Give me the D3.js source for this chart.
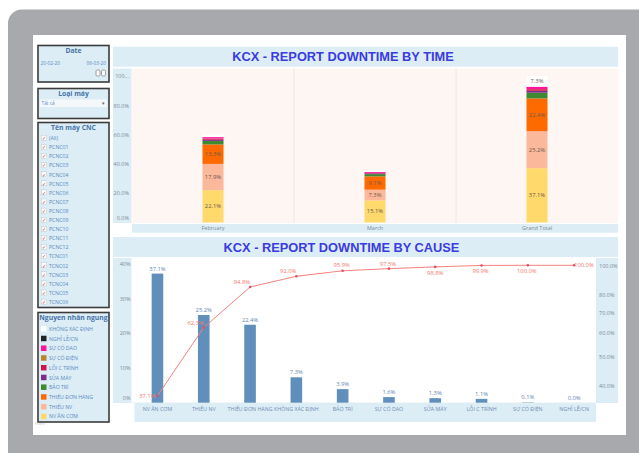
<!DOCTYPE html>
<html><head><meta charset="utf-8">
<script src="https://cdn.jsdelivr.net/npm/d3@7"></script>
<style>
body{margin:0;background:#fff;}
svg{display:block;font-family:"Open Sans",Lato,sans-serif;}
</style>
</head><body>
<svg id="c" width="639" height="453"></svg>
<script>
// ---------- data ----------
const periods = ["February", "March", "Grand Total"];
const stackKeys = ["NV ĂN CƠM","THIẾU NV","THIẾU ĐƠN HÀNG","BẢO TRÌ","SỬA MÁY","LỖI C TRÌNH","SỰ CỐ ĐIỆN","SỰ CỐ DAO","NGHỈ LỄ/CN","KHÔNG XÁC ĐỊNH"];
const febValues   = [22.1, 17.9, 13.3, 2.4, 0.8, 0.7, 0.1, 1.0, 0.0, 2.0];
const marValues   = [15.1, 7.3, 9.1, 1.5, 0.5, 0.4, 0.0, 0.6, 0.0, 0.8];
const totalValues = [37.1, 25.2, 22.4, 3.9, 1.3, 1.1, 0.1, 1.6, 0.0, 7.3];
const topTicks = [0, 20, 40, 60, 80, 100];
const topTickLabels = ["0.0%", "20.0%", "40.0%", "60.0%", "80.0%", "100..."];

const causes = ["NV ĂN CƠM","THIẾU NV","THIẾU ĐƠN HÀNG","KHÔNG XÁC ĐỊNH","BẢO TRÌ","SỰ CỐ DAO","SỬA MÁY","LỖI C TRÌNH","SỰ CỐ ĐIỆN","NGHỈ LỄ/CN"];
const causeShare = [37.1, 25.2, 22.4, 7.3, 3.9, 1.6, 1.3, 1.1, 0.1, 0.0];
const cumulativeShare = [37.1, 62.3, 84.8, 92.0, 95.9, 97.5, 98.8, 99.9, 100.0, 100.0];
const leftTicks = [0, 10, 20, 30, 40];
const rightTicks = [40, 50, 60, 70, 80, 100];

const legendItems = ["KHÔNG XÁC ĐỊNH","NGHỈ LỄ/CN","SỰ CỐ DAO","SỰ CỐ ĐIỆN","LỖI C TRÌNH","SỬA MÁY","BẢO TRÌ","THIẾU ĐƠN HÀNG","THIẾU NV","NV ĂN CƠM"];
const legendColors = ["#ffffff","#222222","#ff129c","#b8862e","#d3144c","#7b2c8d","#3f8a31","#ff6a00","#fbb89b","#ffd96c"];
const machines = ["(All)","PCNC01","PCNC02","PCNC03","PCNC04","PCNC05","PCNC06","PCNC07","PCNC08","PCNC09","PCNC10","PCNC11","PCNC12","TCNC01","TCNC02","TCNC03","TCNC04","TCNC05","TCNC06"];

// ---------- setup ----------
const svg = d3.select("#c");
const color = d3.scaleOrdinal().domain(legendItems).range(legendColors);
const BAND = "#dcedf5", TITLE = "#3b3be0", AX = "#7a8a99", PANELTXT = "#5b8cc2", PANELTTL = "#4773a8";

svg.append("rect").attr("x",8).attr("y",9.5).attr("width",660).attr("height",470).attr("rx",14).attr("fill","#a8a9ad");
svg.append("rect").attr("x",33).attr("y",35).attr("width",593).attr("height",400).attr("fill","#fff");

// ---------- left panels ----------
function panel(y0, y1, title){
  svg.append("rect").attr("x",38).attr("y",y0).attr("width",71).attr("height",y1-y0)
    .attr("fill",BAND).attr("stroke","#3b3b3b").attr("stroke-width",1.6);
  svg.append("text").attr("x",73.5).attr("y",y0+7.5).attr("text-anchor","middle")
    .attr("font-size",6.8).attr("font-weight","bold").attr("fill",PANELTTL).text(title);
}
panel(45.5, 82, "Date");
svg.append("text").attr("x",40.5).attr("y",65).attr("font-size",4.8).attr("fill",PANELTXT).text("20-02-20");
svg.append("text").attr("x",106).attr("y",65).attr("text-anchor","end").attr("font-size",4.8).attr("fill",PANELTXT).text("06-03-20");
svg.append("rect").attr("x",96).attr("y",70).attr("width",4).attr("height",6).attr("rx",1.2).attr("fill","#fff").attr("stroke","#888").attr("stroke-width",0.8);
svg.append("rect").attr("x",101.5).attr("y",70).attr("width",4).attr("height",6).attr("rx",1.2).attr("fill","#fff").attr("stroke","#888").attr("stroke-width",0.8);

panel(88.5, 118.5, "Loại máy");
svg.append("rect").attr("x",40).attr("y",99.5).attr("width",67).attr("height",7.5).attr("fill","#f4f8fa");
svg.append("text").attr("x",41.5).attr("y",105).attr("font-size",4.8).attr("fill",PANELTXT).text("Tất cả");
svg.append("text").attr("x",102).attr("y",105).attr("font-size",4.5).attr("fill","#666").text("▾");

panel(122.5, 307.5, "Tên máy CNC");
const mRow = svg.append("g").selectAll("g").data(machines).join("g")
  .attr("transform",(d,i)=>`translate(0,${138.3 + i*9.1})`);
mRow.append("rect").attr("x",41.5).attr("y",-3).attr("width",5).attr("height",5).attr("fill","#fff").attr("stroke","#bbb").attr("stroke-width",0.4);
mRow.append("text").attr("x",42).attr("y",1.8).attr("font-size",5).attr("fill","#c0392b").text("✓");
mRow.append("text").attr("x",49).attr("y",1.8).attr("font-size",5.2).attr("fill",PANELTXT).text(d=>d);

panel(312.5, 422, "Nguyen nhân ngung");
const lRow = svg.append("g").selectAll("g").data(legendItems).join("g")
  .attr("transform",(d,i)=>`translate(0,${329 + i*9.74})`);
lRow.append("rect").attr("x",41).attr("y",-3).attr("width",5.5).attr("height",5.5).attr("fill",d=>color(d));
lRow.append("text").attr("x",49).attr("y",1.8).attr("font-size",5.2).attr("fill",PANELTXT).text(d=>d);
svg.append("text").attr("x",35).attr("y",425).attr("font-size",3.5).attr("fill","#bbb").text("Filters");

// ---------- top chart ----------
svg.append("rect").attr("x",113).attr("y",46.7).attr("width",505).attr("height",20).attr("fill",BAND);
svg.append("text").attr("x",343).attr("y",61).attr("text-anchor","middle").attr("font-family","'Liberation Sans',Arial,sans-serif")
  .attr("font-size",12.8).attr("font-weight","bold").attr("fill",TITLE).text("KCX - REPORT DOWNTIME BY TIME");

const tx = d3.scaleBand().domain(periods).range([132,618]);
const ty = d3.scaleLinear().domain([0,100]).range([222.5,76]);
svg.append("rect").attr("x",132).attr("y",68.5).attr("width",486).attr("height",154.5).attr("fill","#fdf6f2");
svg.append("rect").attr("x",113).attr("y",68.5).attr("width",18.5).attr("height",154.5).attr("fill",BAND);
svg.append("rect").attr("x",132).attr("y",224).attr("width",486).attr("height",8.7).attr("fill",BAND);
svg.append("g").selectAll("line").data(periods.slice(1)).join("line")
  .attr("x1",d=>tx(d)).attr("x2",d=>tx(d)).attr("y1",68.5).attr("y2",223).attr("stroke","#f3e2db").attr("stroke-width",0.8);

const topAxis = svg.append("g").attr("transform","translate(129,0)")
  .call(d3.axisLeft(ty).tickValues(topTicks).tickFormat((d,i)=>topTickLabels[i]).tickSize(0).tickPadding(0));
topAxis.select(".domain").remove();
topAxis.selectAll("text").attr("font-size",5.5).attr("fill",AX).attr("font-family","'Open Sans',sans-serif")
  .attr("dy",(d)=> d===0 ? "-0.6em" : "0.32em");

const xTop = svg.append("g").attr("transform","translate(0,224)").call(d3.axisBottom(tx).tickSize(0).tickPadding(2));
xTop.select(".domain").remove();
xTop.selectAll("text").attr("font-size",5.5).attr("fill",AX).attr("font-family","'Open Sans',sans-serif");

const periodRows = periods.map((p,i)=>{
  const vals = [febValues, marValues, totalValues][i];
  const o = {period:p};
  stackKeys.forEach((k,j)=>o[k]=vals[j]);
  return o;
});
const series = d3.stack().keys(stackKeys)(periodRows);
const bw = 21;
const segG = svg.append("g");
series.forEach(s=>{
  s.forEach(d=>{
    const x = tx(d.data.period) + tx.bandwidth()/2 - bw/2;
    const h = ty(d[0]) - ty(d[1]);
    if (h <= 0) return;
    segG.append("rect").attr("x",x).attr("y",ty(d[1])).attr("width",bw).attr("height",h).attr("fill",color(s.key));
    const v = d[1]-d[0];
    if (v >= 7) {
      segG.append("text").attr("x",x+bw/2).attr("y",(ty(d[0])+ty(d[1]))/2+2)
        .attr("text-anchor","middle").attr("font-size",5.8).attr("fill","#6b5b4f").text(v.toFixed(1)+"%");
    }
  });
});

// ---------- bottom chart ----------
svg.append("rect").attr("x",113).attr("y",237).attr("width",505).attr("height",20).attr("fill",BAND);
svg.append("text").attr("x",341.5).attr("y",251.5).attr("text-anchor","middle").attr("font-family","'Liberation Sans',Arial,sans-serif")
  .attr("font-size",12.8).attr("font-weight","bold").attr("fill",TITLE).text("KCX - REPORT DOWNTIME BY CAUSE");

const bx = d3.scaleBand().domain(causes).range([134.3,597.3]);
const by = d3.scaleLinear().domain([0,40]).range([402.7,263.5]);
const ry = d3.scaleLog().domain([40,100]).range([385.9,265.3]);

svg.append("rect").attr("x",113).attr("y",258).attr("width",18.5).attr("height",145).attr("fill",BAND);
svg.append("rect").attr("x",596).attr("y",258).attr("width",22).attr("height",145).attr("fill",BAND);
svg.append("rect").attr("x",134.5).attr("y",403).attr("width",461.5).attr("height",19).attr("fill",BAND);
svg.append("line").attr("x1",131.5).attr("x2",596).attr("y1",402.7).attr("y2",402.7).attr("stroke","#e6eef2").attr("stroke-width",0.6);

const la = svg.append("g").attr("transform","translate(130.5,0)")
  .call(d3.axisLeft(by).tickValues(leftTicks).tickFormat(d=>d+"%").tickSize(0).tickPadding(0));
la.select(".domain").remove();
la.selectAll("text").attr("font-size",5.5).attr("fill",AX).attr("font-family","'Open Sans',sans-serif")
  .attr("dy",d=> d===0 ? "-0.5em" : "0.32em");

const ra = svg.append("g").attr("transform","translate(599,0)")
  .call(d3.axisRight(ry).tickValues(rightTicks).tickFormat(d=>d.toFixed(1)+"%").tickSize(0).tickPadding(0));
ra.select(".domain").remove();
ra.selectAll("text").attr("font-size",5.5).attr("fill",AX).attr("font-family","'Open Sans',sans-serif");

const xb = svg.append("g").attr("transform","translate(0,404)").call(d3.axisBottom(bx).tickSize(0).tickPadding(3));
xb.select(".domain").remove();
xb.selectAll("text").attr("font-size",5.3).attr("fill","#6f8fb3").attr("font-family","'Open Sans',sans-serif");

const bbw = 11.6;
svg.append("g").selectAll("rect").data(causes).join("rect")
  .attr("x",d=>bx(d)+bx.bandwidth()/2-bbw/2)
  .attr("y",(d,i)=>by(causeShare[i]))
  .attr("width",bbw)
  .attr("height",(d,i)=>Math.max(by(0)-by(causeShare[i]),0))
  .attr("fill","#5f8fba");
svg.append("g").selectAll("text").data(causes).join("text")
  .attr("x",d=>bx(d)+bx.bandwidth()/2)
  .attr("y",(d,i)=>by(causeShare[i])-3)
  .attr("text-anchor","middle").attr("font-size",5.8).attr("fill","#5f86b0")
  .text((d,i)=>causeShare[i].toFixed(1)+"%");

const pts = causes.map((c,i)=>[bx(c)+bx.bandwidth()/2, ry(cumulativeShare[i])]);
svg.append("path").attr("d",d3.line()(pts)).attr("fill","none").attr("stroke","#f5807c").attr("stroke-width",1);
svg.append("g").selectAll("circle").data(pts).join("circle")
  .attr("cx",d=>d[0]).attr("cy",d=>d[1]).attr("r",1.3).attr("fill","#e0506a");

// label placements: [anchor, dx, dy]
const lblPos = [["end",-2,2],["end",0,-3],["end",0,-3],["end",0,-3.5],["middle",-1,-3.5],["middle",-1,-3],["middle",0,8],["middle",-1,7.5],["middle",-1,7.5],["start",0,2]];
svg.append("g").selectAll("text").data(pts).join("text")
  .attr("x",(d,i)=>d[0]+lblPos[i][1]).attr("y",(d,i)=>d[1]+lblPos[i][2])
  .attr("text-anchor",(d,i)=>lblPos[i][0])
  .attr("font-size",5.8).attr("fill","#f0796b")
  .text((d,i)=>cumulativeShare[i].toFixed(1)+"%");
</script>
</body></html>
